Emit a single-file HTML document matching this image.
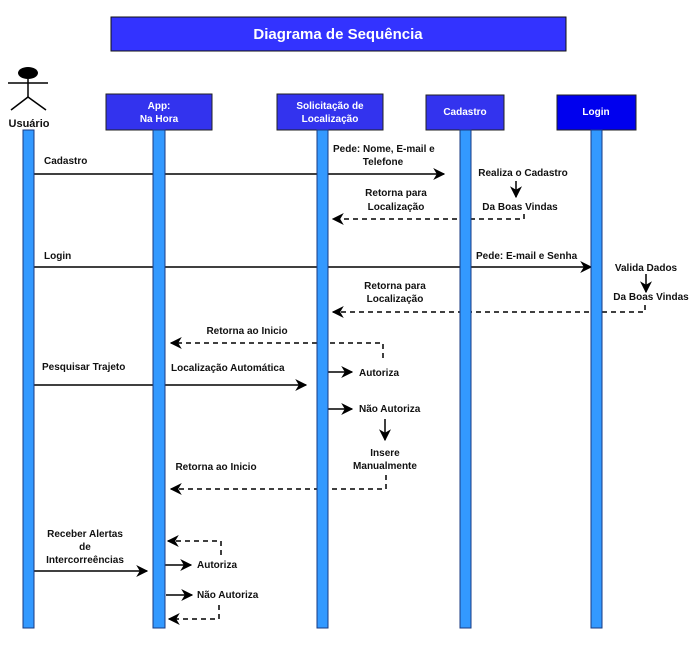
<!DOCTYPE html>
<html><head><meta charset="utf-8"><style>
html,body{margin:0;padding:0;background:#fff;width:695px;height:655px;overflow:hidden}
text{font-family:"Liberation Sans",sans-serif;font-weight:bold;font-size:10px;fill:#111}
.w{fill:#fff}
</style></head><body>
<svg width="695" height="655" viewBox="0 0 695 655" xmlns="http://www.w3.org/2000/svg">
<defs>
<marker id="a" viewBox="0 0 10 10" refX="9" refY="5" markerWidth="8" markerHeight="8" orient="auto-start-reverse"><path d="M0,0 L10,5 L0,10 L3,5 z" fill="#000"/></marker>
</defs>
<rect x="111" y="17" width="455" height="34" fill="#3333ff" stroke="#111" stroke-width="1"/>
<text x="338" y="39" text-anchor="middle" class="w" style="font-size:15px">Diagrama de Sequência</text>
<!-- actor -->
<ellipse cx="28" cy="73" rx="10" ry="6" fill="#000"/>
<g stroke="#000" stroke-width="1.5" fill="none">
<line x1="8" y1="83" x2="48" y2="83"/><line x1="28" y1="79" x2="28" y2="97"/>
<line x1="28" y1="97" x2="11" y2="110"/><line x1="28" y1="97" x2="46" y2="110"/></g>
<text x="29" y="127" text-anchor="middle" style="font-size:11px">Usuário</text>
<!-- headers -->
<rect x="106" y="94" width="106" height="36" fill="#3333ee" stroke="#222"/>
<text x="159" y="109" text-anchor="middle" class="w">App:</text><text x="159" y="122" text-anchor="middle" class="w">Na Hora</text>
<rect x="277" y="94" width="106" height="36" fill="#3333ee" stroke="#222"/>
<text x="330" y="109" text-anchor="middle" class="w">Solicitação de</text><text x="330" y="122" text-anchor="middle" class="w">Localização</text>
<rect x="426" y="95" width="78" height="35" fill="#3333ee" stroke="#222"/>
<text x="465" y="115" text-anchor="middle" class="w">Cadastro</text>
<rect x="557" y="95" width="79" height="35" fill="#0000ee" stroke="#222"/>
<text x="596" y="115" text-anchor="middle" class="w">Login</text>
<!-- solid arrows -->
<g stroke="#000" stroke-width="1.5" fill="none" marker-end="url(#a)">
<line x1="34" y1="174" x2="444" y2="174"/>
<line x1="516" y1="181" x2="516" y2="197"/>
<line x1="34" y1="267" x2="591" y2="267"/>
<line x1="646" y1="274" x2="646" y2="292"/>
<line x1="34" y1="385" x2="306" y2="385"/>
<line x1="328" y1="372" x2="352" y2="372"/>
<line x1="328" y1="409" x2="352" y2="409"/>
<line x1="385" y1="419" x2="385" y2="440"/>
<line x1="34" y1="571" x2="147" y2="571"/>
<line x1="165" y1="565" x2="191" y2="565"/>
<line x1="166" y1="595" x2="192" y2="595"/>
</g>
<!-- dashed -->
<g stroke="#000" stroke-width="1.5" fill="none" stroke-dasharray="5,4" marker-end="url(#a)">
<polyline points="524,214 524,219 333,219"/>
<polyline points="645,305 645,312 333,312"/>
<polyline points="383,358 383,343 171,343"/>
<polyline points="386,475 386,489 171,489"/>
<polyline points="221,555 221,541 168,541"/>
<polyline points="219,605 219,619 169,619"/>
</g>
<!-- bars -->
<g fill="#3399ff" stroke="#1a3a80" stroke-width="1">
<rect x="23" y="130" width="11" height="498"/>
<rect x="153" y="130" width="12" height="498"/>
<rect x="317" y="130" width="11" height="498"/>
<rect x="460" y="130" width="11" height="498"/>
<rect x="591" y="130" width="11" height="498"/>
</g>
<!-- labels -->
<text x="44" y="164">Cadastro</text>
<text x="333" y="152">Pede: Nome, E-mail e</text>
<text x="383" y="165" text-anchor="middle">Telefone</text>
<text x="523" y="176" text-anchor="middle">Realiza o Cadastro</text>
<text x="520" y="210" text-anchor="middle">Da Boas Vindas</text>
<text x="396" y="196" text-anchor="middle">Retorna para</text>
<text x="396" y="210" text-anchor="middle">Localização</text>
<text x="44" y="259">Login</text>
<text x="476" y="259">Pede: E-mail e Senha</text>
<text x="646" y="271" text-anchor="middle">Valida Dados</text>
<text x="651" y="300" text-anchor="middle">Da Boas Vindas</text>
<text x="395" y="289" text-anchor="middle">Retorna para</text>
<text x="395" y="302" text-anchor="middle">Localização</text>
<text x="247" y="334" text-anchor="middle">Retorna ao Inicio</text>
<text x="42" y="370">Pesquisar Trajeto</text>
<text x="171" y="371">Localização Automática</text>
<text x="359" y="376">Autoriza</text>
<text x="359" y="412">Não Autoriza</text>
<text x="385" y="456" text-anchor="middle">Insere</text>
<text x="385" y="469" text-anchor="middle">Manualmente</text>
<text x="216" y="470" text-anchor="middle">Retorna ao Inicio</text>
<text x="85" y="537" text-anchor="middle">Receber Alertas</text>
<text x="85" y="550" text-anchor="middle">de</text>
<text x="85" y="563" text-anchor="middle">Intercorreências</text>
<text x="197" y="568">Autoriza</text>
<text x="197" y="598">Não Autoriza</text>
</svg>
</body></html>
